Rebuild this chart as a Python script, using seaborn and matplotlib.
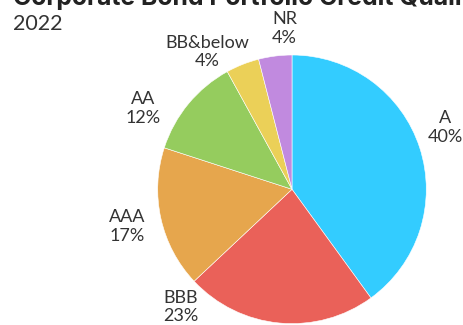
import numpy as np
import matplotlib
matplotlib.use("Agg")
import matplotlib.pyplot as plt
import seaborn as sns

categories = ["A", "BBB", "AAA", "AA", "BB&below", "NR"]
values = [40, 23, 17, 12, 4, 4]
colors = ["#33CCFF", "#EA6159", "#E6A64D", "#95CC5E", "#EBD058", "#C18ADF"]
title = "Corporate Bond Portfolio Credit Quality"
subtitle = "2022"

# label angle nudges (degrees) to avoid overlap, and label radii
label_nudge = [4, -38, 0, 11, 10, -4.5]
label_radius = [1.23, 1.205, 1.26, 1.26, 1.2, 1.2]

sns.set_theme(style="white")
plt.rcParams["font.family"] = ["Lato", "DejaVu Sans"]

W, H = 463, 325
fig = plt.figure(figsize=(W / 100, H / 100), dpi=100)
cx, cy, R = 292, 189.3, 134.3
ax = fig.add_axes([0, 0, 1, 1])
wedges, _ = ax.pie(values, colors=sns.color_palette(colors), startangle=90,
                   counterclock=False, radius=1,
                   wedgeprops=dict(edgecolor="white", linewidth=0.4))
ax.set_aspect("auto")
ax.set_xlim(-cx / R, (W - cx) / R)
ax.set_ylim(-(H - cy) / R, cy / R)
ax.axis("off")

for w, cat, v, nud, rr in zip(wedges, categories, values, label_nudge, label_radius):
    mid = np.deg2rad((w.theta1 + w.theta2) / 2 + nud)
    ax.text(rr * np.cos(mid), rr * np.sin(mid), f"{cat}\n{v}%", ha="center",
            va="center", fontsize=13, color="#333333", linespacing=1.2)

# title: size chosen so that "...Quali" reaches the right edge as in reference
t = fig.text(13 / W, 1 - 5 / H, title[:-2], ha="left", va="baseline", fontsize=16,
             fontweight="bold", color="#222222", family=["Inter", "DejaVu Sans"])
fig.canvas.draw()
wpx = t.get_window_extent().width
fs = 16 * 450 / wpx
t.set_text(title)
t.set_fontsize(fs)
fig.text(13 / W, 1 - 30 / H, subtitle, ha="left", va="baseline", fontsize=15.5,
         color="#333333")

fig.savefig("out.png", dpi=100)
